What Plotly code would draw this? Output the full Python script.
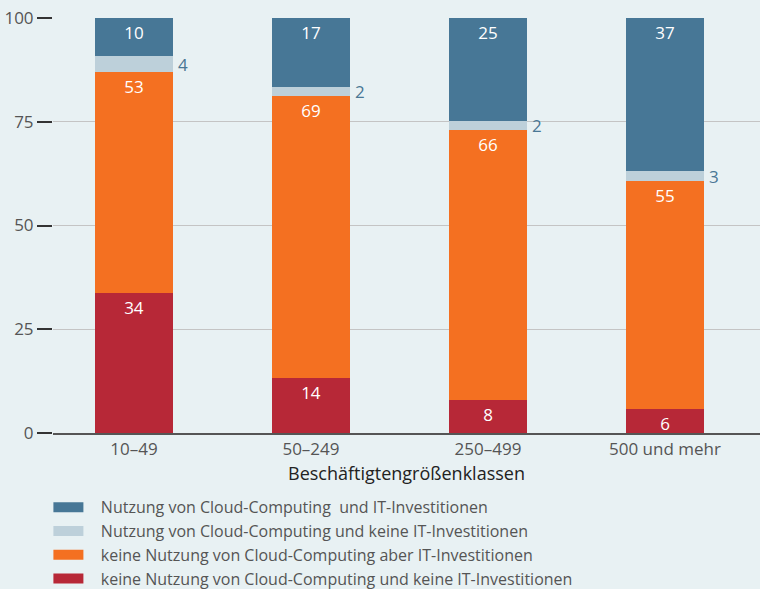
import plotly.graph_objects as go

categories = ["10–49", "50–249", "250–499", "500 und mehr"]

series_names = [
    "Nutzung von Cloud-Computing  und IT-Investitionen",
    "Nutzung von Cloud-Computing und keine IT-Investitionen",
    "keine Nutzung von Cloud-Computing aber IT-Investitionen",
    "keine Nutzung von Cloud-Computing und keine IT-Investitionen",
]

# bar heights (percent)
red_vals = [33.7, 13.3, 8.0, 5.8]
orange_vals = [53.3, 67.9, 65.0, 54.9]
light_vals = [3.8, 2.2, 2.2, 2.4]
blue_vals = [9.2, 16.6, 24.8, 36.9]

# value labels as printed in the picture
red_labels = ["34", "14", "8", "6"]
orange_labels = ["53", "69", "66", "55"]
light_labels = ["4", "2", "2", "3"]
blue_labels = ["10", "17", "25", "37"]

y_ticks = [0, 25, 50, 75, 100]

c_blue = "#477796"
c_light = "#bdd0da"
c_orange = "#f47021"
c_red = "#b72837"
bg = "#e8f1f3"
FONT = "Open Sans"

fig = go.Figure()

stack = [
    (red_vals, red_labels, c_red, series_names[3]),
    (orange_vals, orange_labels, c_orange, series_names[2]),
    (light_vals, None, c_light, series_names[1]),
    (blue_vals, blue_labels, c_blue, series_names[0]),
]

for vals, labels, color, name in stack:
    fig.add_trace(go.Bar(
        x=categories, y=vals, name=name, marker=dict(color=color, line=dict(width=0)),
        width=0.44, showlegend=False,
        text=labels if labels else None,
        textposition="inside" if labels else "none",
        insidetextanchor="end", textangle=0, constraintext="none",
        insidetextfont=dict(family=FONT, size=17, color="white"),
        hoverinfo="skip",
    ))

# labels for the thin light segments, placed to the right of the bars
for i, cat in enumerate(categories):
    mid = red_vals[i] + orange_vals[i] + light_vals[i] / 2
    fig.add_annotation(
        x=i + 0.22, y=mid, xref="x", yref="y", text=light_labels[i],
        showarrow=False, xanchor="left", yanchor="middle", xshift=3,
        font=dict(family=FONT, size=17, color="#4a7795"),
    )

# legend entries (wide swatches)
for name, color in zip(series_names, [c_blue, c_light, c_orange, c_red]):
    fig.add_trace(go.Scatter(
        x=[None], y=[None], mode="lines", name="\u00a0\u00a0\u00a0" + name,
        line=dict(color=color, width=11), showlegend=True,
    ))

fig.update_layout(
    width=760, height=589,
    barmode="stack", bargap=0,
    paper_bgcolor=bg, plot_bgcolor=bg,
    margin=dict(l=53, r=0, t=18, b=156, autoexpand=False),
    font=dict(family=FONT, size=17, color="#555555"),
    showlegend=True,
    legend=dict(
        x=-0.0065, xanchor="left", y=-0.138, yanchor="top",
        traceorder="normal", bgcolor="rgba(0,0,0,0)",
        font=dict(family=FONT, size=16, color="#555555"),
        itemwidth=30, tracegroupgap=0,
    ),
    xaxis=dict(
        type="category", range=[-0.4576, 3.537],
        showgrid=False, showline=True, linecolor="#555555", linewidth=2,
        ticks="", tickfont=dict(family=FONT, size=17, color="#555555"),
        title=dict(text="Beschäftigtengrößenklassen", standoff=8,
                   font=dict(family=FONT, size=18, color="#222222")),
        zeroline=False,
    ),
    yaxis=dict(
        range=[0, 100], tickvals=y_ticks, ticks="outside", ticklen=15,
        tickwidth=1.5, tickcolor="#333333",
        showgrid=True, gridcolor="#c4c4c4", gridwidth=1,
        zeroline=False, showline=False,
        tickfont=dict(family=FONT, size=17, color="#555555"),
    ),
)

fig.write_html(
    "out.html",
    config={"displayModeBar": False},
    post_script="document.body.style.margin='0';document.body.style.overflow='hidden';",
)
